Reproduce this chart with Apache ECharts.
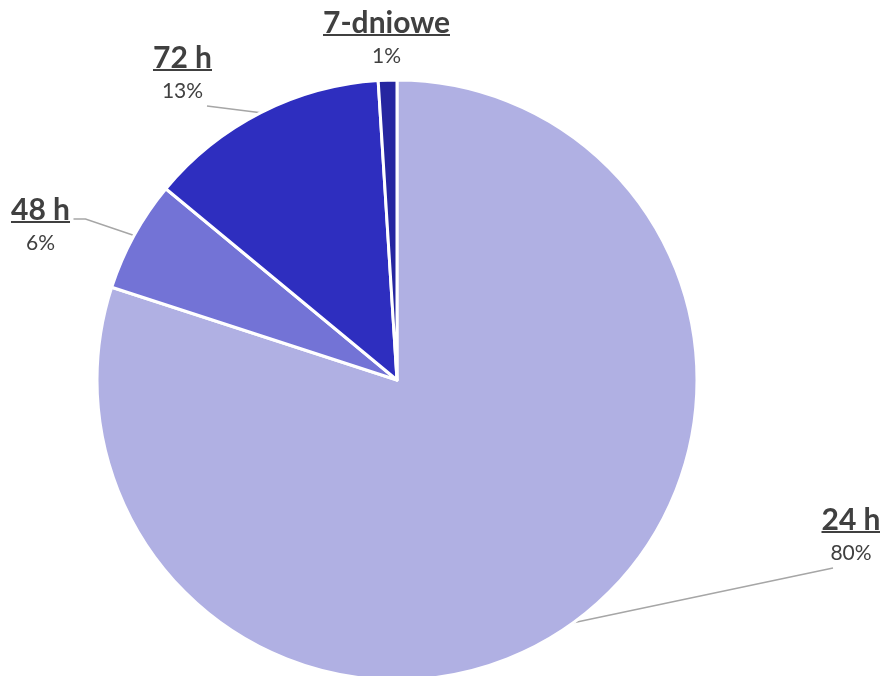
<!DOCTYPE html>
<html><head><meta charset="utf-8">
<script src="https://cdn.jsdelivr.net/npm/echarts@6/dist/echarts.min.js"></script>
<style>html,body{margin:0;padding:0;background:#fff}#chart{width:880px;height:676px}</style>
</head><body><div id="chart"></div>
<script>
const categories = ['24 h', '48 h', '72 h', '7-dniowe'];
const shares = [80, 6, 13, 1];
const sliceColors = ['#b0b0e3', '#7373d6', '#2e2ebf', '#2626a0'];

// label block placement: [centre x, top y]
const labelSpots = [[851, 510], [40.5, 200], [182.5, 48], [386.5, 13]];
// leader line bends / end, relative to the label anchor (null = no leader)
const leaderBends = [[[-18, 58]], [[45, 19], [33, 19]], [[24.5, 58]], null];

const NAME_SIZE = 30;
const PCT_SIZE = 21;
const ctx = document.createElement('canvas').getContext('2d');
function textWidth(t) { ctx.font = 'bold ' + NAME_SIZE + 'px Lato'; return ctx.measureText(t).width; }

function labelFor(name) {
  return {
    formatter: p => `{n|${p.name}}\n{u|}\n{p|${p.value}%}`,
    rich: {
      n: { fontFamily: 'Lato', fontWeight: 'bold', fontSize: NAME_SIZE, color: '#404040', lineHeight: 20 },
      u: { width: textWidth(name), height: 2, lineHeight: 4, backgroundColor: '#404040' },
      p: { fontFamily: 'Lato', fontSize: PCT_SIZE, color: '#404040', lineHeight: 38 }
    }
  };
}

const chart = echarts.init(document.getElementById('chart'), null, { renderer: 'canvas' });
chart.setOption({
  animation: false,
  series: [{
    type: 'pie',
    center: [397, 380],
    radius: 300,
    startAngle: 90,
    clockwise: true,
    data: categories.map((c, i) => ({
      name: c,
      value: shares[i],
      itemStyle: { color: sliceColors[i] },
      label: labelFor(c),
      labelLine: { show: leaderBends[i] !== null }
    })),
    itemStyle: { borderColor: '#fff', borderWidth: 3 },
    label: { show: true, position: 'outside' },
    labelLine: { show: true, lineStyle: { color: '#a6a6a6', width: 1.5 } },
    emphasis: { disabled: true },
    labelLayout: p => {
      const [lx, ly] = labelSpots[p.dataIndex];
      const out = { x: lx, y: ly, align: 'center', verticalAlign: 'top' };
      const bends = leaderBends[p.dataIndex];
      if (bends && p.labelLinePoints) {
        out.labelLinePoints = [p.labelLinePoints[0]].concat(bends.map(b => [lx + b[0], ly + b[1]]));
      }
      return out;
    }
  }]
});
</script>
</body></html>
